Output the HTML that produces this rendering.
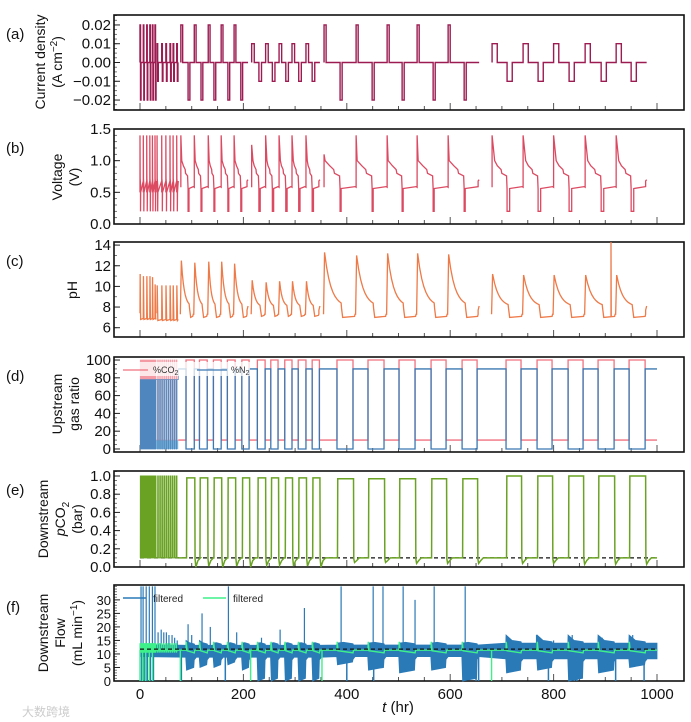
<!DOCTYPE html>
<html><head><meta charset="utf-8"><style>
html,body{margin:0;padding:0;background:#fff;}
svg{display:block;font-family:"Liberation Sans","Noto Sans CJK SC",sans-serif;}
</style></head><body>
<svg id="chart" width="691" height="722" viewBox="0 0 691 722" xmlns="http://www.w3.org/2000/svg">
<g id="labels" font-size="14" fill="#111">
<text x="6" y="39" font-size="15">(a)</text>
<text x="6" y="153" font-size="15">(b)</text>
<text x="6" y="266" font-size="15">(c)</text>
<text x="6" y="381" font-size="15">(d)</text>
<text x="6" y="495" font-size="15">(e)</text>
<text x="6" y="612" font-size="15">(f)</text>
<text transform="translate(45,62) rotate(-90)" text-anchor="middle">Current density</text>
<text transform="translate(62,62) rotate(-90)" text-anchor="middle">(A cm<tspan dy="-5" font-size="10">−2</tspan><tspan dy="5">)</tspan></text>
<text transform="translate(62,177) rotate(-90)" text-anchor="middle">Voltage</text>
<text transform="translate(79,177) rotate(-90)" text-anchor="middle">(V)</text>
<text transform="translate(77,290) rotate(-90)" text-anchor="middle">pH</text>
<text transform="translate(62,404) rotate(-90)" text-anchor="middle">Upstream</text>
<text transform="translate(79,404) rotate(-90)" text-anchor="middle">gas ratio</text>
<text transform="translate(48,519) rotate(-90)" text-anchor="middle">Downstream</text>
<text transform="translate(65,519) rotate(-90)" text-anchor="middle"><tspan font-style="italic">p</tspan>CO<tspan dy="4" font-size="10">2</tspan></text>
<text transform="translate(82,519) rotate(-90)" text-anchor="middle">(bar)</text>
<text transform="translate(48,633) rotate(-90)" text-anchor="middle">Downstream</text>
<text transform="translate(65,633) rotate(-90)" text-anchor="middle">Flow</text>
<text transform="translate(82,633) rotate(-90)" text-anchor="middle">(mL min<tspan dy="-5" font-size="10">−1</tspan><tspan dy="5">)</tspan></text>
<text x="398" y="712" text-anchor="middle" font-size="15"><tspan font-style="italic">t</tspan> (hr)</text>
<text x="22" y="716" font-size="12" fill="#ccc">大数跨境</text>
</g>
</svg>
<script>
// ---------------- data ----------------
const segStart=[0,33,79,216,356,681];
const segEnd=[31,74,209,348,656,980];
const pulseT=[0,1,6.4,7.4,13,14,19,20,24,25,29,30,
 33,34.2,42,43.2,50,51.2,58,59.2,64,65.2,71,72.2,
 79,93,105,118,132,143,157,170,182,195,
 216,230,243,256,269,282,294,307,321,333,
 356,387,418,449,478,507,536,567,596,627,
 681,710,741,770,800,830,861,892,921,950];
const pulseA=[.02,-.02,.02,-.02,.02,-.02,.02,-.02,.02,-.02,.02,-.02,
 .01,-.01,.01,-.01,.01,-.01,.01,-.01,.01,-.01,.01,-.01,
 .02,-.02,.02,-.02,.02,-.02,.02,-.02,.02,-.02,
 .01,-.01,.01,-.01,.01,-.01,.01,-.01,.01,-.01,
 .02,-.02,.02,-.02,.02,-.02,.02,-.02,.02,-.02,
 .01,-.01,.01,-.01,.01,-.01,.01,-.01,.01,-.01];
const segPulseW=[1,1.2,3.5,5,4,10];
const vPeak=[1.4,1.4,1.4,1.4,1.4,1.4, 1.4,1.4,1.4,1.4,1.4,1.4,
 1.4,1.4,1.4,1.4,1.4, 1.25,1.4,1.4,1.4,1.4, 1.1,1.4,1.4,1.4,1.4, 1.4,1.4,1.4,1.4,1.4];
const vLow=[0.2,0.2,0.2,0.2,0.2,0.2, 0.2,0.2,0.2,0.2,0.2,0.2,
 0.2,0.2,0.2,0.2,0.2, 0.2,0.2,0.2,0.2,0.2, 0.2,0.2,0.2,0.2,0.2, 0.2,0.2,0.2,0.2,0.2];
const pHPeak=[11.2,11,11,11,10.9,10.2, 10.1,10.1,10.1,10.1,10.1,10.1,
 12.5,12.3,12.4,12.4,12.2, 10.6,10.4,10.5,10.5,10.5, 13.3,13.0,13.2,13.2,13.1, 11.2,11.1,11.1,11.1,11.1];
const pHMin=[6.8,6.7,7.0,7.1,7.0,7.0];
const pHSpikeT=[911];
const pHSpikeV=[14.3];
const gasOnStart=[0.5,2.6,4.7,6.8,8.9,11,13.1,15.2,17.3,19.4,21.5,23.6,25.7,27.8,29.9,
 34,38,42,46,50,54,58,62,66,70,
 89,115,142,169,197, 227,253,280,306,333, 381,441,501,563,623, 708,768,828,886,946];
const gasOnEnd=[1.5,3.6,5.7,7.8,9.9,12,14.1,16.2,18.3,20.4,22.5,24.6,26.7,28.8,30.9,
 35.5,39.5,43.5,47.5,51.5,55.5,59.5,63.5,67.5,71.5,
 105,130,157,184,211, 242,267,294,321,347, 412,472,532,592,652, 737,797,857,917,977];
const n2Levels=[78,90];
const n2LevelChangeT=74;
const co2Levels=[10,100];
const pTop=[0.98,0.98,0.98,0.98,0.98, 0.98,0.98,0.98,0.98,0.98, 0.97,0.97,0.97,0.97,0.97, 1.0,1.0,1.0,1.0,1.0];
const pDip=[0.0,0.01,0.0,0.01,0.0, 0.02,0.02,0.01,0.01,0.0, 0.05,0.05,0.04,0.04,0.04, 0.04,0.04,0.03,0.03,0.03];
const pBase=0.1;
const flowLo=[4,5,5,6,4, 0,0,0,0,0, 6,4,3,4,0, 3,4,0,3,5];
const flowHi=[15,15,14,14,14, 14,14,14,14,14, 14,14,14,14,14, 17,17,17,17,17];
const flowBaseHi=[13.5,13.2,13.3,14];
const flowBaseLo=[9,8.8,9,8.2];
const flowSpikeT=[2,6,12,18,24,29, 35,41,46,51,56,62,67,72, 93,100,120,136,171,187,235,271,318,389,451,470,509,532,569,629,709,767,800,836,894,953];
const flowSpikeV=[35,35,35,35,35,35, 18,19,18,18,17,17,16,15, 21,17,25,20,35,18,16,19,27,35,35,35,35,30,35,35,16,17,15,17,16,17];
const flowDropT=[3,8,14,20,26,80,165,400,452,650,655,790,840,845,920,975];
const greenDropT=[0,5,11,18,24,78,214,352,680];
const flowRef=11.8;
const xTicks=[0,200,400,600,800,1000];

// ---------------- helpers ----------------
const NS='http://www.w3.org/2000/svg';
const svg=document.getElementById('chart');
const L0=114,R0=684;
function X(t){return 140+t*0.517;}
const P={
 a:{top:15,bot:110,min:-0.0253,max:0.0253,ticks:[-0.02,-0.01,0,0.01,0.02],fmt:v=>(v<0?'−':'')+Math.abs(v).toFixed(2),minor:0.0025},
 b:{top:129,bot:224,min:0,max:1.5,ticks:[0,0.5,1,1.5],fmt:v=>v.toFixed(1),minor:0.1},
 c:{top:242,bot:337,min:5.1,max:14.3,ticks:[6,8,10,12,14],fmt:v=>String(v),minor:1},
 d:{top:357,bot:452,min:-3.4,max:103.4,ticks:[0,20,40,60,80,100],fmt:v=>String(v),minor:5},
 e:{top:471,bot:567,min:0,max:1.055,ticks:[0,0.2,0.4,0.6,0.8,1.0],fmt:v=>v.toFixed(1),minor:0.05},
 f:{top:585,bot:681,min:0,max:35.5,ticks:[0,5,10,15,20,25,30],fmt:v=>String(v),minor:1}
};
function Y(p,v){return p.bot-(v-p.min)/(p.max-p.min)*(p.bot-p.top);}
function mk(tag,attrs,parent){const e=document.createElementNS(NS,tag);for(const k in attrs)e.setAttribute(k,attrs[k]);(parent||svg).appendChild(e);return e;}
function pathD(p,pts){let d='';pts.forEach((q,i)=>{d+=(i?'L':'M')+X(q[0]).toFixed(2)+','+Y(p,q[1]).toFixed(2);});return d;}
function segOf(t){for(let i=segStart.length-1;i>=0;i--){if(t>=segStart[i]-0.5)return i;}return 0;}

// ---------------- axes ----------------
const axesG=mk('g',{});


Object.keys(P).forEach(k=>{
 const p=P[k];
 for(let v=Math.ceil(p.min/p.minor)*p.minor;v<=p.max+1e-9;v+=p.minor){
  const yy=Y(p,v);
  const tk=mk('line',{x1:L0,x2:L0+3,y1:yy,y2:yy,stroke:'#555','stroke-width':0.8},axesG);
  
  
 }
 p.ticks.forEach(v=>{
  const yy=Y(p,v);
  const tk=mk('line',{x1:L0,x2:L0+6,y1:yy,y2:yy,stroke:'#222','stroke-width':1},axesG);
  
  
  const tl=mk('text',{x:L0-3,y:yy+5,'text-anchor':'end','font-size':k==='f'?13:15,fill:'#111'},axesG);
  tl.textContent=p.fmt(v);
  
  
 });
 for(let t=0;t<=1000;t+=50){
  const big=(t%200===0);
  const tk=mk('line',{x1:X(t),x2:X(t),y1:p.bot,y2:p.bot-(big?7:4),stroke:'#555','stroke-width':1},axesG);
  
  
 }
 const fr=mk('rect',{x:L0,y:p.top,width:R0-L0,height:p.bot-p.top,fill:'none',stroke:'#111','stroke-width':1.6},axesG);
 
 
});
xTicks.forEach(t=>{
 const tl=mk('text',{x:X(t),y:699,'text-anchor':'middle','font-size':15,fill:'#111'},axesG);
 tl.textContent=String(t);
 
 
});

// ---------------- (a) current ----------------
(function(){
 const p=P.a;
 for(let s=0;s<segStart.length;s++){
  const pts=[[segStart[s],0]];
  const w=segPulseW[s];
  pulseT.forEach((t,i)=>{ if(segOf(t)!==s) return;
   pts.push([t,0],[t,pulseA[i]],[t+w,pulseA[i]],[t+w,0]); });
  pts.push([segEnd[s],0]);
  const el=mk('path',{d:pathD(p,pts),fill:'none',stroke:'#9c1c52','stroke-width':1.4});
  
  
 }
})();

const cycles=[];
pulseT.forEach((t,i)=>{ if(pulseA[i]>0){ cycles.push({tp:t,tn:pulseT[i+1],seg:segOf(t)}); } });
cycles.forEach((c,i)=>{ const nx=cycles[i+1]; c.next=(nx&&nx.seg===c.seg)?nx.tp:segEnd[c.seg]; });

// ---------------- (b) voltage ----------------
(function(){
 const p=P.b;
 for(let s=0;s<segStart.length;s++){
  const pts=[];
  cycles.forEach((c,i)=>{ if(c.seg!==s) return;
   const w=segPulseW[s], pk=vPeak[i], lo=vLow[i];
   if(s<2){
    pts.push([c.tp,0.5],[c.tp,pk],[c.tp+0.3,0.72],[c.tn,0.62],[c.tn,lo],[c.tn+0.3,0.5],[c.next,0.68]);
   } else {
    const d=c.tn-c.tp;
    pts.push([c.tp,0.58],[c.tp,pk],[c.tp+w*0.5,1.0],[c.tp+d*0.35,0.92],[c.tp+d*0.6,0.86],[c.tp+d*0.65,0.8],
     [c.tn-1,0.76],[c.tn,0.55],[c.tn,lo],[c.tn+w*0.5,lo],[c.tn+w*0.5,0.56],[c.next-2,0.59]);
    if(c.next===segEnd[s]) pts.push([c.next-2,0.68],[c.next,0.7]);
   }
  });
  const el=mk('path',{d:pathD(p,pts),fill:'none',stroke:'#dc4a62','stroke-width':1.3});
  
  
 }
})();

// ---------------- (c) pH ----------------
(function(){
 const p=P.c;
 for(let s=0;s<segStart.length;s++){
  const pts=[];
  const mn=pHMin[s];
  cycles.forEach((c,i)=>{ if(c.seg!==s) return;
   const pk=pHPeak[i];
   if(s<2){
    pts.push([c.tp,7.4],[c.tp+0.3,pk],[c.tn,7.6],[c.tn+0.3,mn],[c.next,mn+0.1]);
   } else {
    const d=c.tn-c.tp, tau=d/2.5;
    pts.push([c.tp-1,7.3],[c.tp+1,pk]);
    for(let k=1;k<=8;k++){const tt=c.tp+1+(d+1)*k/8; pts.push([tt,8.0+(pk-8.0)*Math.exp(-(tt-c.tp-1)/tau)]);}
    pts.push([c.tn+3,7.8],[c.tn+5,mn],[c.next-3,mn+0.1],[c.next-2,7.3]);
    if(c.next===segEnd[s]) pts.push([c.next-2,7.7],[c.next,8.1]);
   }
  });
  const el=mk('path',{d:pathD(p,pts),fill:'none',stroke:'#ee7a48','stroke-width':1.3});
  
  
 }
 pHSpikeT.forEach((t,i)=>{
  const el=mk('path',{d:pathD(p,[[t,7.1],[t,pHSpikeV[i]],[t+0.5,7.1]]),fill:'none',stroke:'#ee7a48','stroke-width':1.3});
  
  
 });
})();

// ---------------- (d) gas ratio ----------------
(function(){
 const p=P.d;
 const co2E=[[0,co2Levels[0]]], n2E=[[0,n2Levels[0]]];
 const co2=[], n2=[];
 gasOnStart.forEach((s,i)=>{
  const e=gasOnEnd[i];
  const early=e<75;
  const nl=early?n2Levels[0]:n2Levels[1];
  const ca=early?co2E:co2, na=early?n2E:n2;
  if(!early && co2.length===0){ co2.push([n2LevelChangeT,co2Levels[0]]); n2.push([n2LevelChangeT,n2Levels[1]]); }
  ca.push([s,co2Levels[0]],[s,co2Levels[1]],[e,co2Levels[1]],[e,co2Levels[0]]);
  na.push([s,nl],[s,0],[e,0],[e,nl]);
 });
 co2E.push([n2LevelChangeT,co2Levels[0]]); n2E.push([n2LevelChangeT,n2Levels[0]],[n2LevelChangeT,n2Levels[1]]);
 co2.push([1000,co2Levels[0]]); n2.push([1000,n2Levels[1]]);
 const bf=mk('rect',{x:X(0),y:Y(p,n2Levels[0]),width:X(31)-X(0),height:Y(p,0)-Y(p,n2Levels[0]),fill:'#3d6aa5'});
 
 
 const lf=mk('rect',{x:X(0),y:Y(p,10),width:X(74)-X(0),height:Y(p,0)-Y(p,10),fill:'#5ab0e0',opacity:0.7});
 
 
 const a0=mk('path',{d:pathD(p,co2E),fill:'none',stroke:'#f49aa5','stroke-width':0.7});
 
 
 const b0=mk('path',{d:pathD(p,n2E),fill:'none',stroke:'#4f86bd','stroke-width':0.7});
 
 
 const a=mk('path',{d:pathD(p,co2),fill:'none',stroke:'#f0707e','stroke-width':1.3});
 
 
 const b=mk('path',{d:pathD(p,n2),fill:'none',stroke:'#3a78b2','stroke-width':1.3});
 
 
 const lg=mk('g',{});
 
 
 const wb=mk('rect',{x:120,y:362,width:130,height:14,fill:'#fff',opacity:0.75},lg);
 
 
 const l1=mk('line',{x1:123,x2:148,y1:370,y2:370,stroke:'#f0707e','stroke-width':1.3},lg);
 
 
 const t1=mk('text',{x:153,y:373,'font-size':9,fill:'#333'},lg);
 t1.innerHTML='%CO<tspan dy="2" font-size="7">2</tspan>';
 
 
 const l2=mk('line',{x1:197,x2:227,y1:370,y2:370,stroke:'#3a78b2','stroke-width':1.3},lg);
 
 
 const t2=mk('text',{x:231,y:373,'font-size':9,fill:'#333'},lg);
 t2.innerHTML='%N<tspan dy="2" font-size="7">2</tspan>';
 
 
})();

// ---------------- (e) pCO2 ----------------
(function(){
 const p=P.e;
 const early=[[0,pBase]], pts=[[n2LevelChangeT,pBase]];
 let k=0;
 gasOnStart.forEach((s,i)=>{
  const e=gasOnEnd[i];
  if(e<75){ early.push([s,pBase],[s+0.15,1.0],[e,1.0],[e+0.15,pBase]); }
  else {
   pts.push([s+1,pBase],[s+1.5,pTop[k]],[e+1,pTop[k]],[e+1.5,0.09],[e+3,pDip[k]],[e+7,0.07],[e+12,pBase]);
   k++;
  }
 });
 early.push([n2LevelChangeT,pBase]);
 pts.push([1000,pBase]);
 const ref=mk('line',{x1:X(0),x2:X(1000),y1:Y(p,pBase),y2:Y(p,pBase),stroke:'#111','stroke-width':1.2,'stroke-dasharray':'4,3'});
 
 
 const e0=mk('path',{d:pathD(p,early),fill:'none',stroke:'#6aa324','stroke-width':0.9});
 
 
 const el=mk('path',{d:pathD(p,pts),fill:'none',stroke:'#6aa324','stroke-width':1.5});
 
 
})();

// ---------------- (f) flow ----------------
(function(){
 const p=P.f;
 function base(t){return t<75?0:t<356?1:t<670?2:3;}
 const hi=[],lo=[];
 hi.push([0,flowBaseHi[0]]); lo.push([0,flowBaseLo[0]]);
 let k=0;
 gasOnStart.forEach((s,i)=>{
  const e=gasOnEnd[i];
  if(e<75) return;
  const b=base(s);
  hi.push([s-0.5,flowBaseHi[b]],[s,flowHi[k]],[s+(e-s)*0.4,flowBaseHi[b]+1],[e,flowBaseHi[b]+0.5],[e+1,flowBaseHi[b]]);
  lo.push([s-0.5,flowBaseLo[b]],[s+1,flowLo[k]],[e-1,flowLo[k]+1],[e,flowBaseLo[b]-1],[e+4,flowBaseLo[b]]);
  k++;
 });
 hi.push([1000,flowBaseHi[3]]); lo.push([1000,flowBaseLo[3]]);
 const poly=hi.concat(lo.slice().reverse());
 const band=mk('path',{d:pathD(p,poly)+'Z',fill:'#2a7ab8',stroke:'#2a7ab8','stroke-width':0.8});
 
 
 flowSpikeT.forEach((t,i)=>{
  const el=mk('path',{d:pathD(p,[[t,11],[t,Math.min(flowSpikeV[i],35.5)]]),stroke:'#2a7ab8','stroke-width':1.2});
  
  
 });
 flowDropT.forEach(t=>{
  const el=mk('path',{d:pathD(p,[[t,10],[t,0]]),stroke:'#2a7ab8','stroke-width':1.5});
  
  
 });
 const g=[[0,11.4]];
 gasOnStart.forEach((s,i)=>{
  const e=gasOnEnd[i];
  if(e<75){ g.push([s,11.4],[s,14],[s+0.4,10.5],[e,11.4]); }
  else { g.push([s,11.4],[s+0.5,14.5],[s+2,11.2],[e,10.4],[e+1,11.4]); }
 });
 g.push([1000,11.4]);
 const gl=mk('path',{d:pathD(p,g),fill:'none',stroke:'#3ef08a','stroke-width':1.4});
 
 
 greenDropT.forEach(t=>{
  const el=mk('path',{d:pathD(p,[[t,11.4],[t,0]]),stroke:'#3ef08a','stroke-width':1.4});
  
  
 });
 const ref=mk('line',{x1:X(0),x2:X(1000),y1:Y(p,flowRef),y2:Y(p,flowRef),stroke:'#111','stroke-width':1.3,'stroke-dasharray':'4,3'});
 
 
 const lg=mk('g',{});
 
 
 const l1=mk('line',{x1:123,x2:146,y1:598,y2:598,stroke:'#2a7ab8','stroke-width':1.5},lg);
 
 
 const t1=mk('text',{x:153,y:602,'font-size':10,fill:'#222'},lg);
 t1.textContent='filtered';
 
 
 const l2=mk('line',{x1:203,x2:226,y1:598,y2:598,stroke:'#3ef08a','stroke-width':1.5},lg);
 
 
 const t2=mk('text',{x:233,y:602,'font-size':10,fill:'#222'},lg);
 t2.textContent='filtered';
 
 
})();
</script>
</body></html>
